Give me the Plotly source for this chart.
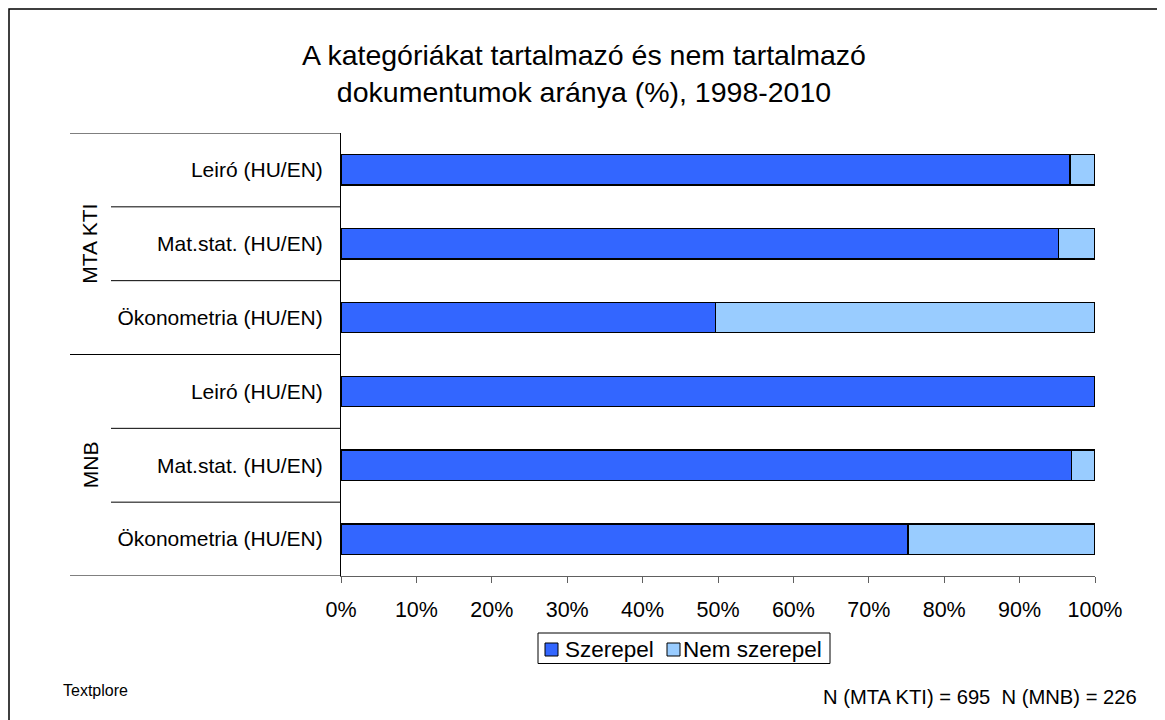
import plotly.graph_objects as go

categories = ["Leiró (HU/EN)", "Mat.stat. (HU/EN)", "Ökonometria (HU/EN)",
              "Leiró (HU/EN)", "Mat.stat. (HU/EN)", "Ökonometria (HU/EN)"]
groups = ["MTA KTI", "MNB"]
szerepel = [96.7, 95.2, 49.7, 100.0, 96.9, 75.2]
nem_szerepel = [round(100 - v, 1) for v in szerepel]
series_names = ["Szerepel", "Nem szerepel"]
series_colors = ["#3366FF", "#99CCFF"]
x_ticks = [0, 10, 20, 30, 40, 50, 60, 70, 80, 90, 100]
x_tick_labels = [f"{t}%" for t in x_ticks]

# page body has an 8px margin: figure sits at (8, 8) in the screenshot
OFF = 8
W, H = 1165 - OFF, 720 - OFF
PLOT_X0, PLOT_X1, PLOT_Y0, PLOT_Y1 = 341, 1095, 133, 576  # screen px
L = PLOT_X0 - OFF
R = W - (PLOT_X1 - OFF)
T = PLOT_Y0 - OFF
B = H - (PLOT_Y1 - OFF)
pw, ph = PLOT_X1 - PLOT_X0, PLOT_Y1 - PLOT_Y0

def px_x(sx):
    return (sx - PLOT_X0) / pw

def px_y(sy):
    return (PLOT_Y1 - sy) / ph

FONT = "Arial, Liberation Sans, sans-serif"
pos = list(range(len(categories)))

fig = go.Figure()
for name, vals, col in zip(series_names, [szerepel, nem_szerepel], series_colors):
    fig.add_trace(go.Bar(y=pos, x=vals, orientation="h", name=name, showlegend=False,
                         marker=dict(color=col, line=dict(color="black", width=1.3))))

shapes = []
# separator lines on the category axis
for i in range(len(categories) + 1):
    yv = i - 0.5
    long_line = (i % 3 == 0)
    x0 = px_x(70) if long_line else px_x(111)
    shapes.append(dict(type="line", xref="paper", yref="y", x0=x0, x1=0,
                       y0=yv, y1=yv, line=dict(color="black", width=1)))
# outer border
shapes.append(dict(type="rect", xref="paper", yref="paper",
                   x0=px_x(9), x1=px_x(1175), y0=px_y(730), y1=px_y(9),
                   line=dict(color="black", width=1.5)))
# legend box and swatches
shapes.append(dict(type="rect", xref="paper", yref="paper",
                   x0=px_x(538), x1=px_x(830), y0=px_y(663.5), y1=px_y(633),
                   line=dict(color="black", width=1), fillcolor="white"))
swatch_x = [545, 667]
for sx, col in zip(swatch_x, series_colors):
    shapes.append(dict(type="rect", xref="paper", yref="paper",
                       x0=px_x(sx), x1=px_x(sx + 13), y0=px_y(656), y1=px_y(643),
                       line=dict(color="black", width=1), fillcolor=col))

annotations = []
text_x = [563, 681]
for tx, name in zip(text_x, series_names):
    annotations.append(dict(text=name, xref="paper", yref="paper", x=px_x(tx), y=px_y(649),
                            xanchor="left", yanchor="middle", showarrow=False,
                            font=dict(size=22.5, color="black", family=FONT)))
for gi, g in enumerate(groups):
    annotations.append(dict(text=g, xref="paper", yref="y", x=px_x(90),
                            y=gi * 3 + 1, textangle=-90, showarrow=False,
                            font=dict(size=21, color="black", family=FONT),
                            xanchor="center", yanchor="middle"))
annotations.append(dict(text="Textplore", xref="paper", yref="paper",
                        x=px_x(61), y=px_y(690), xanchor="left", yanchor="middle",
                        showarrow=False, font=dict(size=16, color="black", family=FONT)))
annotations.append(dict(text="N (MTA KTI) = 695  N (MNB) = 226", xref="paper", yref="paper",
                        x=px_x(1139), y=px_y(697), xanchor="right", yanchor="middle",
                        showarrow=False, font=dict(size=20.2, color="black", family=FONT)))

fig.update_layout(
    width=W, height=H,
    margin=dict(l=L, r=R, t=T, b=B, pad=0),
    paper_bgcolor="white", plot_bgcolor="white",
    barmode="stack", bargap=0.59,
    showlegend=False,
    font=dict(family=FONT, size=21, color="black"),
    title=dict(text="A kategóriákat tartalmazó és nem tartalmazó<br>dokumentumok aránya (%), 1998-2010",
               xref="container", yref="container", x=(584 - OFF) / W, y=1 - (65 - OFF) / H,
               xanchor="center", yanchor="middle",
               font=dict(size=28.5, family=FONT, color="black")),
    xaxis=dict(range=[0, 100], tickvals=x_ticks, ticktext=x_tick_labels,
               showgrid=False, zeroline=False, showline=True, linecolor="#606060",
               linewidth=1, ticks="outside", ticklen=6, tickcolor="#606060",
               ticklabelstandoff=8,
               tickfont=dict(size=21.5, family=FONT, color="black"), fixedrange=True),
    yaxis=dict(range=[len(categories) - 0.5, -0.5], tickvals=pos, ticktext=categories,
               showgrid=False, zeroline=False, showline=True, linecolor="black",
               linewidth=1, ticks="", ticklabelstandoff=13,
               tickfont=dict(size=21, family=FONT, color="black"), fixedrange=True),
    shapes=shapes, annotations=annotations,
)

fig.write_html("out.html")
